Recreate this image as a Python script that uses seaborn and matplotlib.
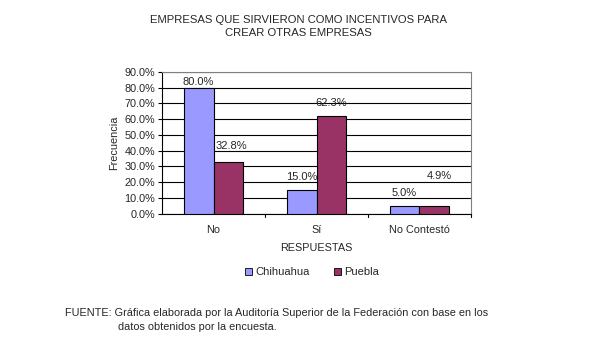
import matplotlib
matplotlib.use("Agg")
import matplotlib.pyplot as plt
import seaborn as sns
import pandas as pd
from matplotlib.patches import Patch
from matplotlib.ticker import FuncFormatter

categories = ["No", "Sí", "No Contestó"]
chihuahua = [80.0, 15.0, 5.0]
puebla = [32.8, 62.3, 4.9]
series_names = ["Chihuahua", "Puebla"]
colors = ["#9999FF", "#993366"]

# label placement offsets (pixels), style only
label_offsets = [
    [(0, 1), (0, 8), (0, 8)],
    [(3, 11), (0, 8), (5, 25)],
]

df = pd.DataFrame({
    "Respuesta": categories * 2,
    "Estado": [series_names[0]] * 3 + [series_names[1]] * 3,
    "Valor": chihuahua + puebla,
})

sns.set_style("white")
plt.rcParams["font.family"] = ["Liberation Sans", "DejaVu Sans"]
plt.rcParams["font.size"] = 7.8

fig = plt.figure(figsize=(5.89, 3.47), dpi=100)
ax = fig.add_axes([162/589, 1-213.7/347, (471-162)/589, (213.7-72)/347])

sns.barplot(data=df, x="Respuesta", y="Valor", hue="Estado", order=categories,
            hue_order=series_names, palette=colors, width=0.58,
            edgecolor="black", linewidth=0.8, saturation=1, ax=ax, legend=False, zorder=3)

ax.set_ylim(0, 90)
ax.set_yticks(range(0, 91, 10))
ax.yaxis.set_major_formatter(FuncFormatter(lambda v, p: f"{v:.1f}%"))
ax.grid(axis="y", color="black", linewidth=0.8, zorder=0)
ax.set_axisbelow(True)
for s in ["top", "right"]:
    ax.spines[s].set_color("#808080")
    ax.spines[s].set_linewidth(0.8)
for s in ["left", "bottom"]:
    ax.spines[s].set_color("black")
    ax.spines[s].set_linewidth(0.8)
ax.tick_params(axis="y", length=3, width=0.8, color="black", left=True, pad=2, labelsize=7.8)
ax.tick_params(axis="x", length=0, pad=8, labelsize=7.8)
ax.set_xlim(-0.5, 2.5)
for xv in [0.5, 1.5, 2.5]:
    ax.plot([xv, xv], [0, -2.2], color="black", lw=0.8, clip_on=False)

ax.set_ylabel("Frecuencia", fontsize=7.8, labelpad=4)
ax.set_xlabel("RESPUESTAS", fontsize=7.8, labelpad=6)

for ci, cont in enumerate(ax.containers):
    for bi, (bar, v) in enumerate(zip(cont.patches, cont.datavalues)):
        dx, dy = label_offsets[ci][bi]
        ax.annotate(f"{v:.1f}%", (bar.get_x() + bar.get_width() / 2, bar.get_height()),
                    xytext=(dx, dy), textcoords="offset pixels",
                    ha="center", va="bottom", fontsize=8)

fig.text(298/589, 1-20/347, "EMPRESAS QUE SIRVIERON COMO INCENTIVOS PARA", ha="center", va="center", fontsize=8.1)
fig.text(298/589, 1-33/347, "CREAR OTRAS EMPRESAS", ha="center", va="center", fontsize=8.1)

handles = [Patch(facecolor=c, edgecolor="black", linewidth=0.6) for c in colors]
fig.legend(handles, series_names, loc="center", bbox_to_anchor=(312/589, 1-272/347),
           ncol=2, frameon=False, fontsize=8, handlelength=0.6, handleheight=0.6,
           handletextpad=0.3, columnspacing=2.2)

fig.text(65/589, 1-313/347, "FUENTE: Gráfica elaborada por la Auditoría Superior de la Federación con base en los",
         ha="left", va="center", fontsize=7.8)
fig.text(118/589, 1-327/347, "datos obtenidos por la encuesta.", ha="left", va="center", fontsize=7.8)

fig.savefig("out.png", dpi=100)
